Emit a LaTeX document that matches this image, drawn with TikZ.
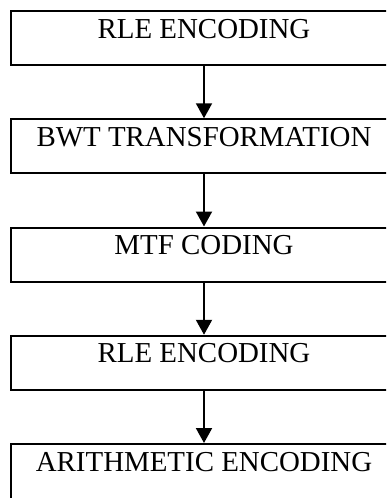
\documentclass[tikz,border=0pt]{standalone}
\usepackage{fontspec}
\setmainfont{Liberation Serif}
\usetikzlibrary{arrows.meta,positioning}

\begin{document}
\begin{tikzpicture}[
  x=1pt, y=1pt,
  node distance=52.25pt,
  box/.style={rectangle, draw=black, line width=2pt, align=center, minimum width=386pt, inner ysep=0pt, text height=27pt, text depth=27pt, font=\fontsize{28.9}{34}\selectfont},
  arrow/.style={-{Triangle[length=15pt, width=16pt]}, line width=2pt}
]
\useasboundingbox (0,0) rectangle (386,-498);
\clip (0,0) rectangle (386,-498);
\node[box] (s1) at (204,-38) {RLE ENCODING};
\node[box, below=of s1] (s2) {BWT TRANSFORMATION};
\node[box, below=of s2] (s3) {MTF CODING};
\node[box, below=of s3] (s4) {RLE ENCODING};
\node[box, below=of s4, text depth=32pt] (s5) {ARITHMETIC ENCODING};

\draw[arrow] (s1) -- (s2);
\draw[arrow] (s2) -- (s3);
\draw[arrow] (s3) -- (s4);
\draw[arrow] (s4) -- (s5);
\end{tikzpicture}
\end{document}
